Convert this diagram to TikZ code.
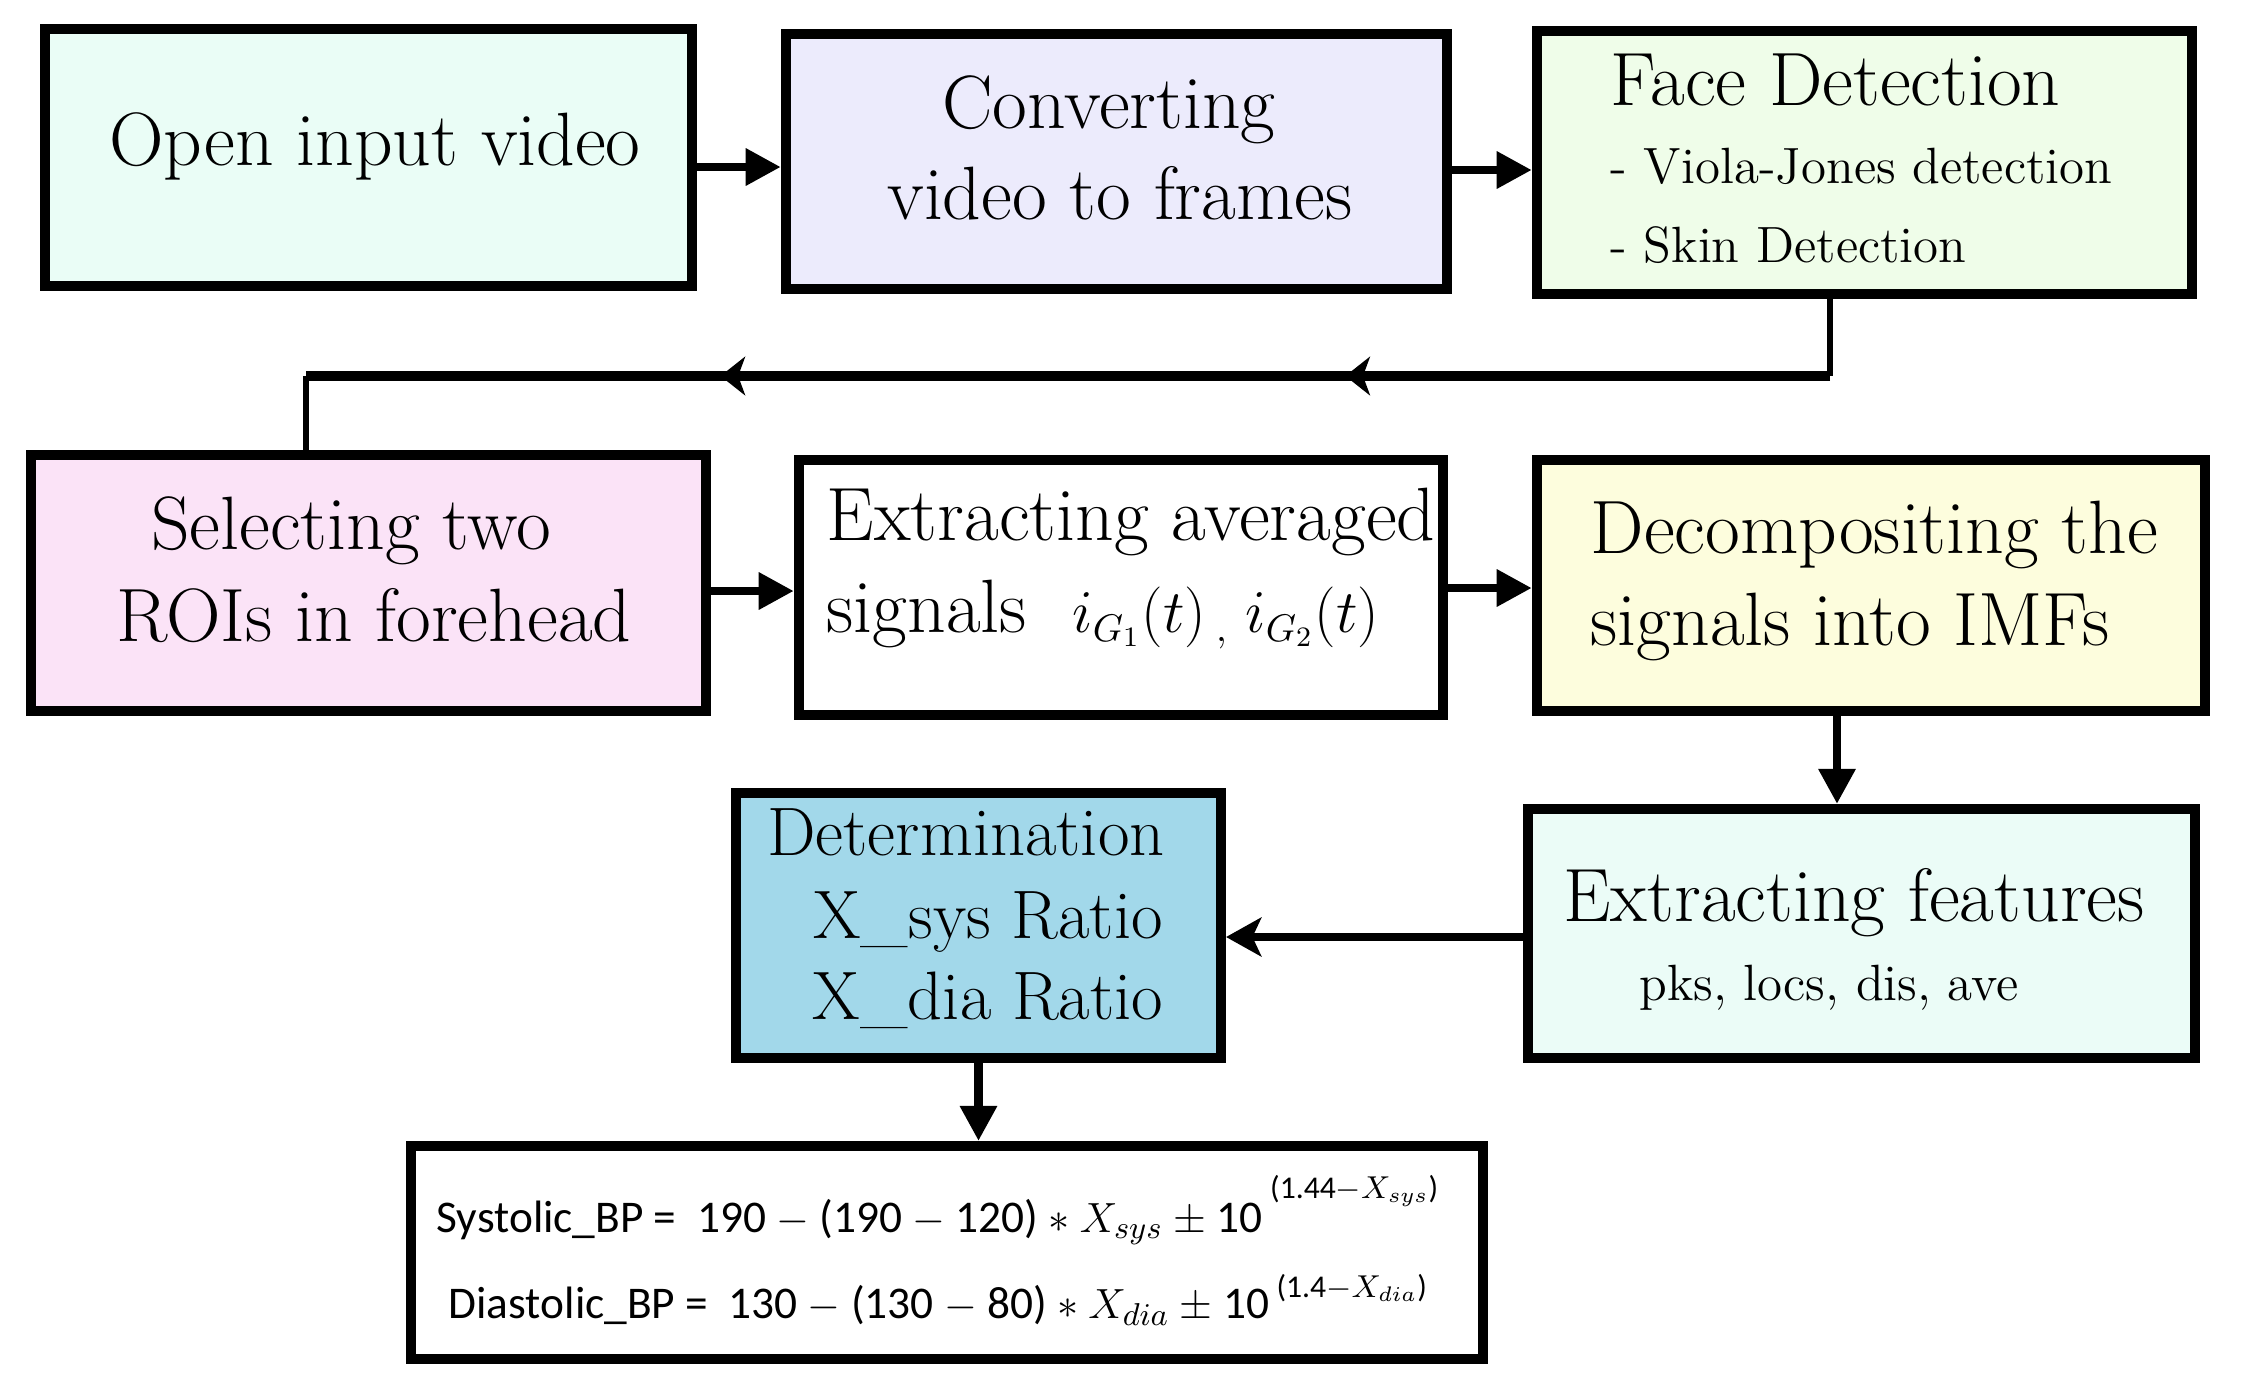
\documentclass[tikz,border=0pt]{standalone}
\usepackage{fontspec}
\newfontfamily\calib{Carlito}
\usetikzlibrary{arrows.meta,decorations.markings}
\definecolor{cA}{HTML}{EAFDF6}
\definecolor{cB}{HTML}{ECEBFC}
\definecolor{cC}{HTML}{EFFDE9}
\definecolor{cD}{HTML}{FBE3F7}
\definecolor{cE}{HTML}{FDFDDD}
\definecolor{cF}{HTML}{A2D8EA}
\definecolor{cG}{HTML}{EBFCF7}
\tikzset{
  box/.style={draw=black, line width=2.8pt, rectangle, inner sep=0pt},
  big/.style={font=\fontsize{21.5}{25}\selectfont, inner sep=0pt},
  mid/.style={font=\fontsize{19.5}{23}\selectfont, inner sep=0pt},
  small/.style={font=\fontsize{14.5}{17}\selectfont, inner sep=0pt},
  formula/.style={anchor=base west, inner sep=0pt, font=\calib\fontsize{12.9}{15}\selectfont},
  arr/.style={line width=2.5pt, -{Triangle[length=10pt,width=10pt]}},
  arrs/.style={line width=2.3pt, -{Stealth[length=10pt,width=11pt,inset=2.5pt]}},
  thinline/.style={line width=1.6pt},
  routeline/.style={line width=2.6pt, postaction={decorate},
    decoration={markings,
      mark=at position 0.318 with {\arrow{Stealth[length=7pt,width=11pt,inset=2pt]}},
      mark=at position 0.728 with {\arrow{Stealth[length=7pt,width=11pt,inset=2pt]}}}},
}
\begin{document}
\begin{tikzpicture}[x=0.01cm,y=-0.01cm]
\useasboundingbox[fill=white] (0,0) rectangle (2244,1396);
% boxes
\node[box, fill=cA, minimum width=6.47cm, minimum height=2.57cm] (B1) at (368.5,157.5) {};
\node[box, fill=cB, minimum width=6.61cm, minimum height=2.55cm] (B2) at (1116.5,161.5) {};
\node[box, fill=cC, minimum width=6.55cm, minimum height=2.63cm] (B3) at (1864.5,162.5) {};
\node[box, fill=cD, minimum width=6.75cm, minimum height=2.56cm] (B4) at (368.5,583) {};
\node[box, fill=white, minimum width=6.44cm, minimum height=2.55cm] (B5) at (1121,587.5) {};
\node[box, fill=cE, minimum width=6.68cm, minimum height=2.51cm] (B6) at (1871,585.5) {};
\node[box, fill=cF, minimum width=4.85cm, minimum height=2.65cm] (B7) at (978.5,925.5) {};
\node[box, fill=cG, minimum width=6.67cm, minimum height=2.49cm] (B8) at (1861.5,933.5) {};
\node[box, fill=white, minimum width=10.72cm, minimum height=2.13cm] (B9) at (947,1252.5) {};
% texts
\node[big, anchor=base] (t1) at (375,165) {Open input video};
\node[big, anchor=base] (t2a) at (1109,128) {Converting};
\node[big, anchor=base] (t2b) at (1120,219) {video to frames};
\node[big, anchor=base west] (t3a) at (1610,105) {Face Detection};
\node[small, anchor=base west] (t3b) at (1610,183) {- Viola-Jones detection};
\node[small, anchor=base west] (t3c) at (1610,262) {- Skin Detection};
\node[big, anchor=base] (t4a) at (351,549) {Selecting two};
\node[big, anchor=base] (t4b) at (374,641) {ROIs in forehead};
\node[big, anchor=base west] (t5a) at (826,540) {Extracting averaged};
\node[big, anchor=base west] (t5b) at (826,632) {signals\ \ {\fontsize{16}{19}\selectfont$i_{G_1}(t)\,{}_{,}\;i_{G_2}(t)$}};
\node[big, anchor=base west] (t6a) at (1590,553) {Decompositing the};
\node[big, anchor=base west] (t6b) at (1590,645) {signals into IMFs};
\node[mid, anchor=base] (t7a) at (966,855) {Determination};
\node[mid, anchor=base] (t7b) at (988,938) {X\_sys Ratio};
\node[mid, anchor=base] (t7c) at (988,1019) {X\_dia Ratio};
\node[big, anchor=base] (t8a) at (1854,921) {Extracting features};
\node[small, anchor=base] (t8b) at (1829,1000) {pks, locs, dis, ave};
\node[formula] (f1) at (436,1232)
  {Systolic\_BP =\ \ 190 $-$ (190 $-$ 120) $*$ $X_{sys}$ $\pm$ 10\,\raisebox{9.5pt}{\fontsize{9}{11}\selectfont(1.44$-X_{sys}$)}};
\node[formula] (f2) at (448,1318)
  {Diastolic\_BP =\ \ 130 $-$ (130 $-$ 80) $*$ $X_{dia}$ $\pm$ 10\,\raisebox{5.7pt}{\fontsize{9}{11}\selectfont(1.4$-X_{dia}$)}};
% connector coordinates
\coordinate (y12) at (0,167);
\coordinate (y23) at (0,170);
\coordinate (y45) at (0,591);
\coordinate (y56) at (0,588);
\coordinate (y87) at (0,937);
\coordinate (x68) at (1837,0);
\coordinate (r1) at (1830,376);
\coordinate (r2) at (306,376);
% connectors
\draw[arr] (B1.east |- y12) -- (B2.west |- y12);
\draw[arr] (B2.east |- y23) -- (B3.west |- y23);
\draw[thinline] (r1 |- B3.south) -- (r1);
\draw[routeline] (r1) -- (r2);
\draw[thinline] (r2) -- (r2 |- B4.north);
\draw[arr] (B4.east |- y45) -- (B5.west |- y45);
\draw[arr] (B5.east |- y56) -- (B6.west |- y56);
\draw[arr] (x68 |- B6.south) -- (x68 |- B8.north);
\draw[arrs] (B8.west |- y87) -- (B7.east |- y87);
\draw[arr] (B7.south) -- (B7.south |- B9.north);
\end{tikzpicture}
\end{document}
